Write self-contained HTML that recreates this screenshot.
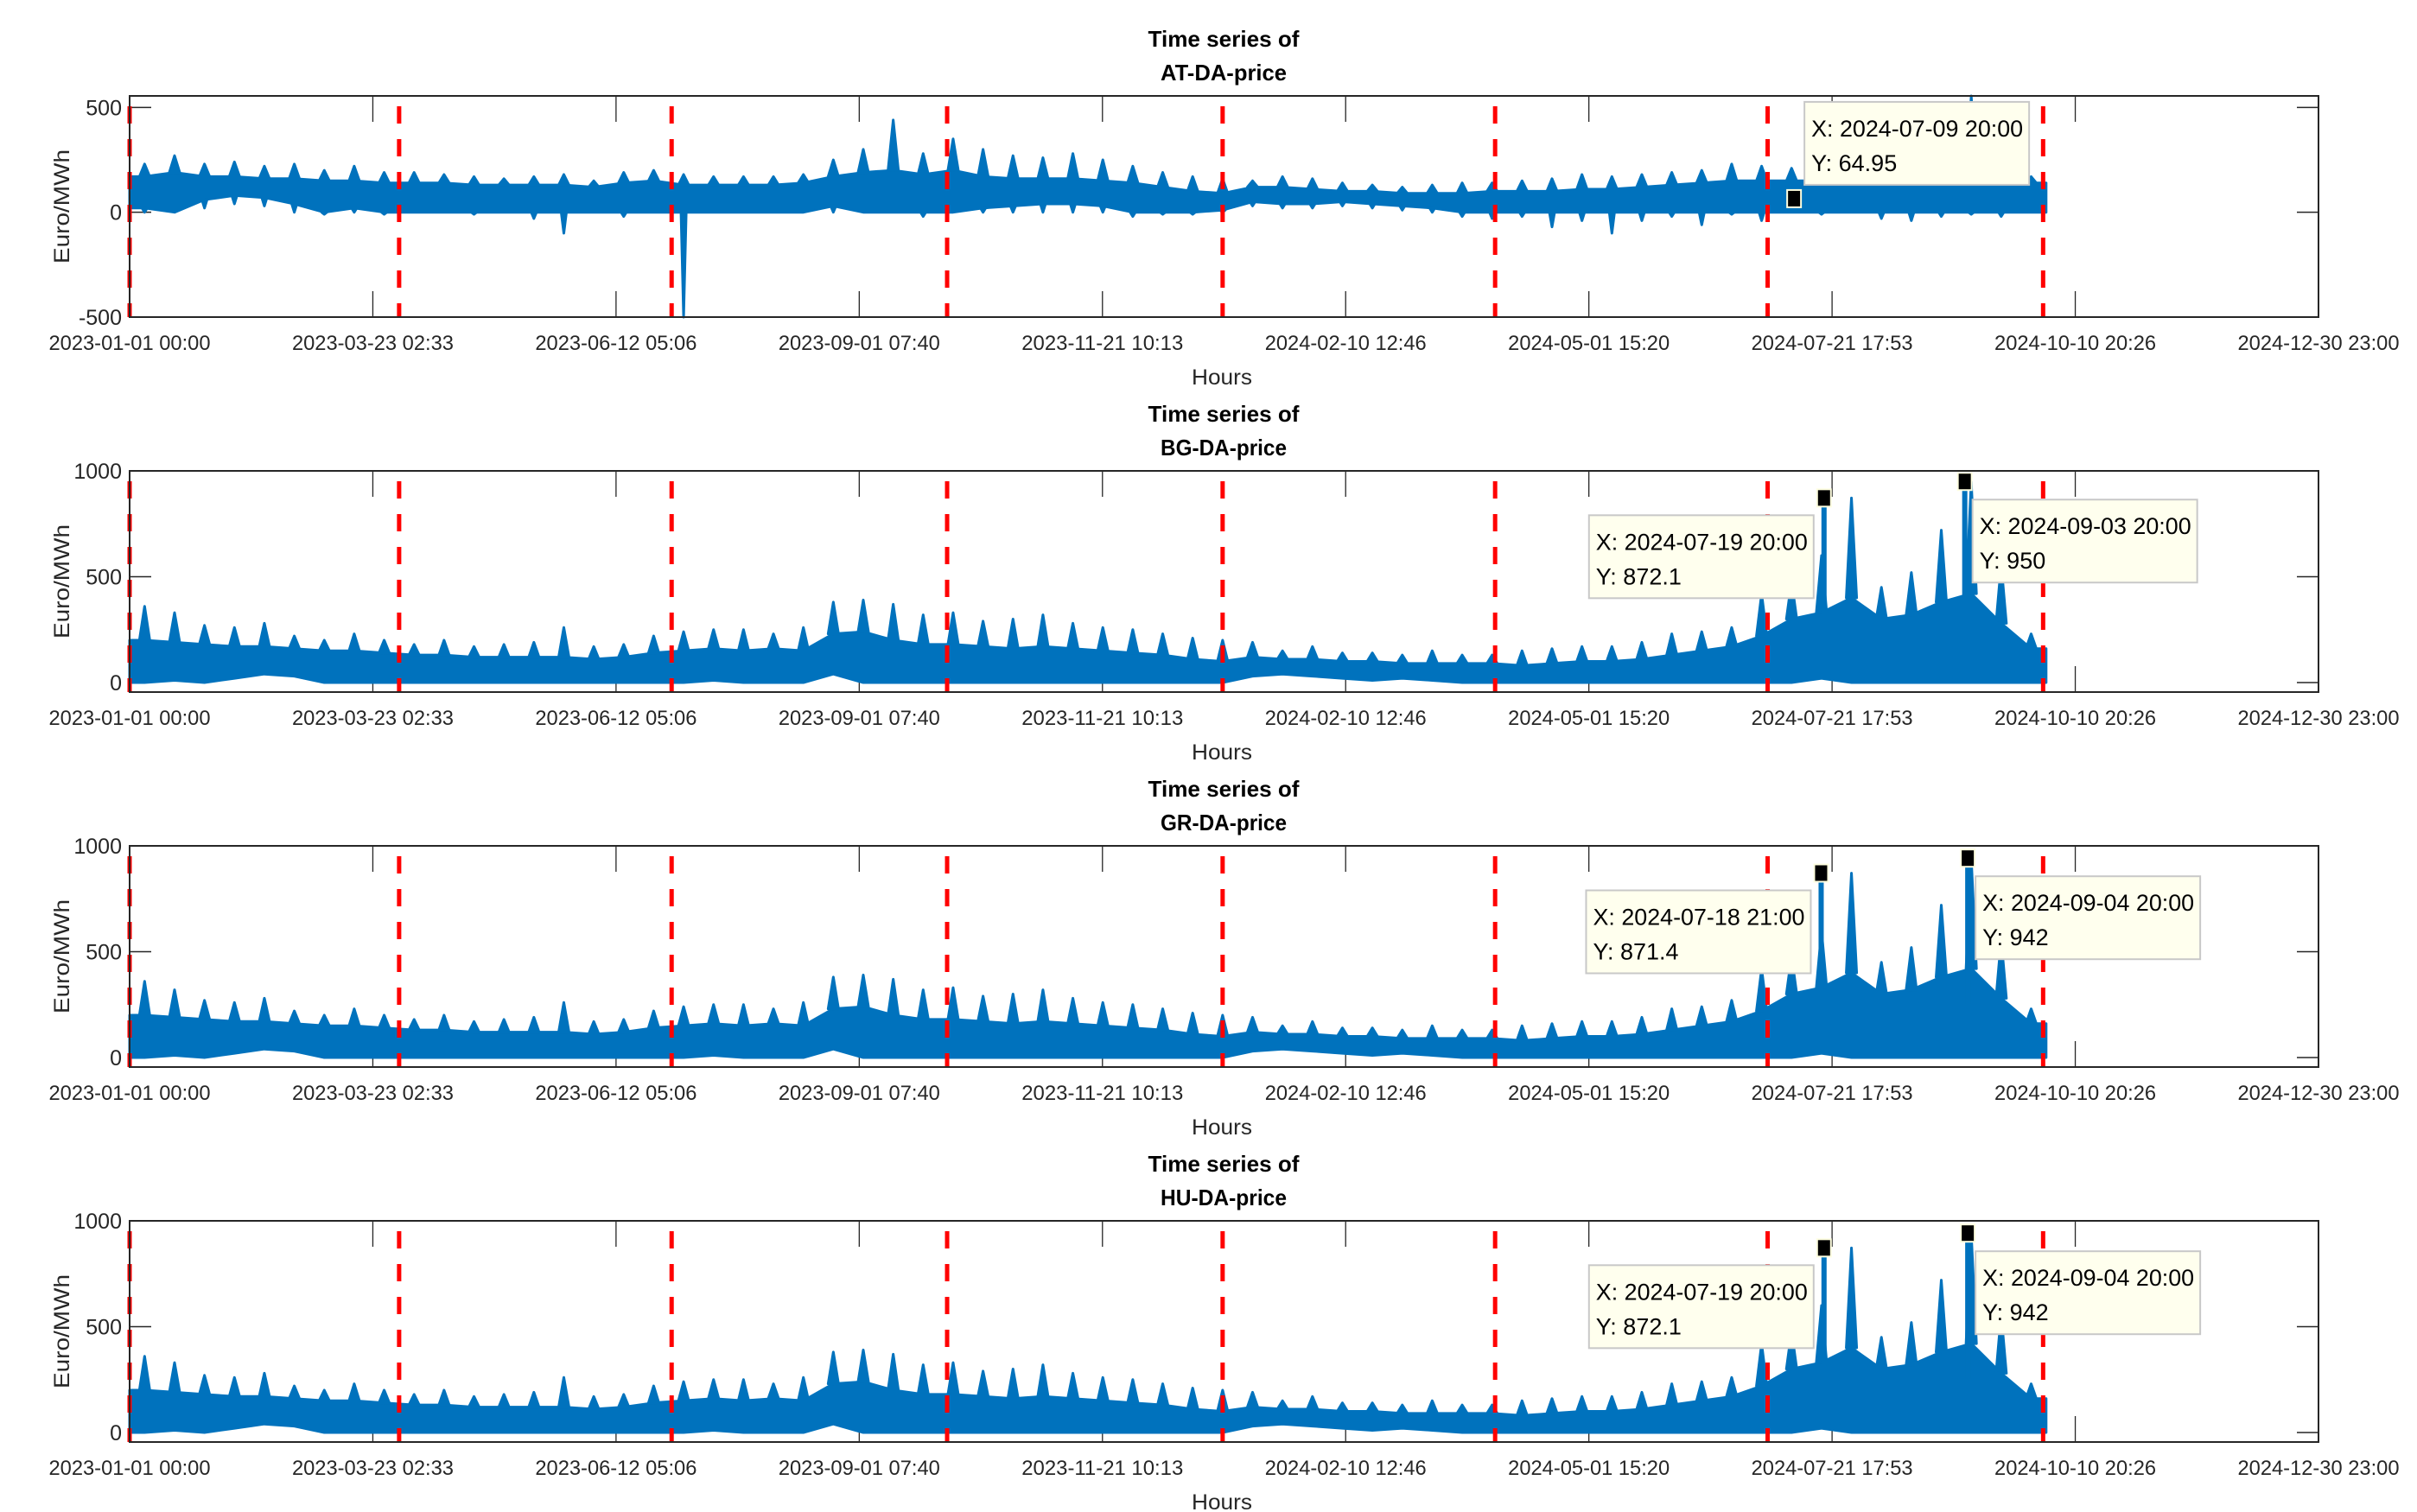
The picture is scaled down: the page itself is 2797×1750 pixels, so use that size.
<!DOCTYPE html>
<html><head><meta charset="utf-8"><style>
html,body{margin:0;padding:0;background:#fff;}
svg{display:block;font-family:"Liberation Sans Narrow","Liberation Sans",sans-serif;}
</style></head><body>
<svg id="fig" width="2797" height="1750" viewBox="0 0 2797 1750" xmlns="http://www.w3.org/2000/svg"></svg>
<script>
// ---------- data ----------
const xTickLabels = ["2023-01-01 00:00","2023-03-23 02:33","2023-06-12 05:06","2023-09-01 07:40","2023-11-21 10:13","2024-02-10 12:46","2024-05-01 15:20","2024-07-21 17:53","2024-10-10 20:26","2024-12-30 23:00"];
const totalHours = 17543;
const quarterHours = [0,2160,4344,6552,8760,10944,13128,15336];
const binHours = 240;
const panelNames = ["AT-DA-price","BG-DA-price","GR-DA-price","HU-DA-price"];
const yMins = [-500,-45,-45,-45];
const yMaxs = [555,1000,1000,1000];
const yTickVals = [[-500,0,500],[0,500,1000],[0,500,1000],[0,500,1000]];

const atPeak = [230,270,230,240,220,230,200,220,190, 190,180,170,160,170,180,150,190,200, 180,170,170,170,180,250,300,440,280, 350,300,270,260,280,250,220,190,170,160, 150,170,160,140,130,120,130,140,140, 150,160,180,170,180,190,200,230,220, 210,200,220,230,220,210,555,200,170];
const atTop  = [170,190,170,170,160,160,150,150,140, 140,140,130,130,130,130,120,140,150, 130,130,130,130,140,170,190,200,180, 200,170,160,160,160,150,140,120,100,90, 120,120,110,100,100,90,90,90,100, 100,100,110,110,120,130,140,150,150, 150,150,160,160,170,160,150,140,140];
const atBot  = [20,0,60,80,70,40,0,20,0, 0,0,0,0,0,0,0,0,0, 0,0,0,0,0,30,0,0,0, 0,20,30,40,40,30,0,0,0,10, 50,40,40,50,40,30,20,0,0, 0,0,0,0,0,0,0,0,0, 0,0,0,0,0,0,0,0,0];
const atDip  = [0,0,20,40,30,0,-10,0,-10, 0,0,-10,0,-30,-100,0,-20,0, -500,0,0,0,0,0,0,0,-20, 0,0,0,0,0,0,-20,-10,-10,0, 30,20,20,30,20,10,0,-20,-30, -20,-70,-40,-100,-40,-20,-60,-10,-40, 0,-10,0,-30,-40,-20,-10,-20,0];

const bgPeak = [360,330,270,260,280,220,200,230,200, 180,200,170,180,190,260,170,180,220, 240,250,250,230,260,380,390,370,320, 330,290,300,320,280,260,250,230,210,200, 190,150,170,140,140,130,150,130,130, 150,160,170,170,190,230,240,260,420, 480,600,872,450,520,720,950,560,230];
const bgTop  = [200,190,180,170,170,160,150,150,140, 130,130,120,120,120,120,110,120,140, 150,160,150,160,150,230,240,200,180, 180,170,160,170,160,150,140,130,110,100, 120,110,110,100,100,90,90,90,90, 80,90,100,100,110,130,150,170,220, 300,330,400,300,320,380,420,280,160];
const bgBot  = [0,10,0,20,40,30,0,0,0, 0,0,0,0,0,0,0,0,0, 0,10,0,0,0,40,0,0,0, 0,0,0,0,0,0,0,0,0,0, 30,40,30,20,10,20,10,0,0, 0,0,0,0,0,0,0,0,0, 0,20,0,0,0,0,0,0,0];

const grPeak = [360,320,270,260,280,220,200,230,200, 180,200,170,180,190,260,170,180,220, 240,250,250,230,260,380,390,370,320, 330,290,300,320,280,260,250,230,210,200, 190,150,170,140,140,130,150,130,130, 150,160,170,170,190,230,240,270,420, 480,600,871,450,520,720,942,560,230];
const grTop  = bgTop.slice();
const grBot  = bgBot.slice();

const huPeak = [360,330,270,260,280,220,200,230,200, 180,200,170,180,190,260,170,180,220, 240,250,250,230,260,380,390,370,320, 330,290,300,320,280,260,250,230,210,200, 190,150,170,140,140,130,150,130,130, 150,160,170,170,190,230,240,260,420, 480,600,872,450,520,720,942,560,230];
const huTop  = bgTop.slice();
const huBot  = bgBot.slice();

const tipHours  = [[13340],[13580,14708],[13557,14732],[13580,14732]];
const tipValues = [[64.95],[872.1,950],[871.4,942],[872.1,942]];
const tipXText  = [["2024-07-09 20:00"],["2024-07-19 20:00","2024-09-03 20:00"],["2024-07-18 21:00","2024-09-04 20:00"],["2024-07-19 20:00","2024-09-04 20:00"]];
const tipYText  = [["64.95"],["872.1","950"],["871.4","942"],["872.1","942"]];
const tipSide   = [["above-right"],["left","right"],["left","right"],["left","right"]];

const series = [
  {peak:atPeak, top:atTop, bot:atBot, dip:atDip},
  {peak:bgPeak, top:bgTop, bot:bgBot, dip:bgBot},
  {peak:grPeak, top:grTop, bot:grBot, dip:grBot},
  {peak:huPeak, top:huTop, bot:huBot, dip:huBot}
];

// ---------- layout ----------
const NS="http://www.w3.org/2000/svg";
const svg=document.getElementById('fig');
const L=150,R=2683,H=256,panelTop0=111,panelStep=434;
function xs(h){return L+h/totalHours*(R-L);}
function mk(tag,attrs,parent){const e=document.createElementNS(NS,tag);for(const k in attrs)e.setAttribute(k,attrs[k]);(parent||svg).appendChild(e);return e;}

for(let p=0;p<4;p++){
  const T=panelTop0+p*panelStep, B=T+H;
  const ys=v=>T+(yMaxs[p]-v)/(yMaxs[p]-yMins[p])*H;
  const g=mk('g',{});
  
  
  const t1=mk('text',{x:1416,y:T-57,'text-anchor':'middle','font-size':26,'font-weight':'bold',fill:'#000',textLength:175,lengthAdjust:'spacingAndGlyphs'},g);
  t1.textContent='Time series of';
  
  
  const t2=mk('text',{x:1416,y:T-18,'text-anchor':'middle','font-size':26,'font-weight':'bold',fill:'#000',textLength:146,lengthAdjust:'spacingAndGlyphs'},g);
  t2.textContent=panelNames[p];
  
  
  xTickLabels.forEach((lab,i)=>{
    const x=L+i*(R-L)/9;
    const tk=mk('path',{d:`M${x},${T}v30M${x},${B}v-30`,stroke:'#262626','stroke-width':1.3},g);
    
    
    const tl=mk('text',{x:x,y:B+38,'text-anchor':'middle','font-size':24,fill:'#262626',textLength:187,lengthAdjust:'spacingAndGlyphs'},g);
    tl.textContent=lab;
    
    
  });
  yTickVals[p].forEach(v=>{
    const y=ys(v);
    const tk=mk('path',{d:`M${L},${y}h25M${R},${y}h-25`,stroke:'#262626','stroke-width':1.5},g);
    
    
    const tl=mk('text',{x:L-9,y:y+9,'text-anchor':'end','font-size':25,fill:'#262626'},g);
    tl.textContent=String(v);
    
    
  });
  const yl=mk('text',{x:0,y:0,transform:`translate(80,${T+H/2}) rotate(-90)`,'text-anchor':'middle','font-size':25,fill:'#262626',textLength:132,lengthAdjust:'spacingAndGlyphs'},g);
  yl.textContent='Euro/MWh';
  
  
  const xl=mk('text',{x:1414,y:B+78,'text-anchor':'middle','font-size':25,fill:'#262626',textLength:70,lengthAdjust:'spacingAndGlyphs'},g);
  xl.textContent='Hours';
  
  

  const s=series[p], n=s.top.length;
  let up=[],dn=[];
  up.push([xs(0),ys(s.top[0])]);dn.push([xs(0),ys(s.bot[0])]);
  for(let i=0;i<n;i++){const xc=xs((i+0.5)*binHours);up.push([xc,ys(s.top[i])]);dn.push([xc,ys(s.bot[i])]);}
  up.push([xs(n*binHours),ys(s.top[n-1])]);dn.push([xs(n*binHours),ys(s.bot[n-1])]);
  const pts=up.concat(dn.reverse()).map(q=>q[0].toFixed(1)+','+q[1].toFixed(1)).join(' ');
  const band=mk('polygon',{points:pts,fill:'#0072BD',stroke:'#0072BD','stroke-width':3,'stroke-linejoin':'round'},g);
  
  
  let d='';
  for(let i=0;i<n;i++){
    const xc=xs((i+0.5)*binHours);
    d+=`M${xc-6},${ys(s.top[i])}L${xc},${ys(s.peak[i])}L${xc+6},${ys(s.top[i])}Z`;
    if(s.dip[i]<s.bot[i]) d+=`M${xc-3},${ys(s.bot[i])}L${xc},${ys(s.dip[i])}L${xc+3},${ys(s.bot[i])}Z`;
  }
  const sp=mk('path',{d:d,fill:'#0072BD',stroke:'#0072BD','stroke-width':3,'stroke-linejoin':'round'},g);
  
  

  quarterHours.forEach(h=>{
    const x=xs(h);
    const ql=mk('line',{x1:x,y1:T+12,x2:x,y2:B,stroke:'#ff0000','stroke-width':5,'stroke-dasharray':'20,18'},g);
    
    
  });

  const fr=mk('rect',{x:L,y:T,width:R-L,height:H,fill:'none',stroke:'#262626','stroke-width':2},g);
  
  

  tipHours[p].forEach((h,k)=>{
    const mx=xs(h), my=ys(tipValues[p][k]);
    if(p>0){
      const tl=mk('line',{x1:mx,y1:ys(250),x2:mx,y2:my,stroke:'#0072BD','stroke-width':6},g);
      
      
    }
    const m=mk('rect',{x:mx-8,y:my-10,width:16,height:20,fill:'#000',stroke:'#ffffe0','stroke-width':2},g);
    
    
    let bx,by;const side=tipSide[p][k];
    if(side==='left'){bx=mx-272;by=my+20;}else if(side==='right'){bx=mx+9;by=my+21;}else{bx=mx+12;by=my-112;}
    const tg=mk('g',{},g);
    
    
    mk('rect',{x:bx,y:by,width:260,height:96,fill:'#ffffee',stroke:'#c8c8c8','stroke-width':2},tg);
    const a=mk('text',{x:bx+8,y:by+40,'font-size':27,fill:'#000',textLength:245,lengthAdjust:'spacingAndGlyphs'},tg);
    a.textContent='X: '+tipXText[p][k];
    const b=mk('text',{x:bx+8,y:by+80,'font-size':27,fill:'#000'},tg);
    b.textContent='Y: '+tipYText[p][k];
  });
}
</script>
</body></html>
